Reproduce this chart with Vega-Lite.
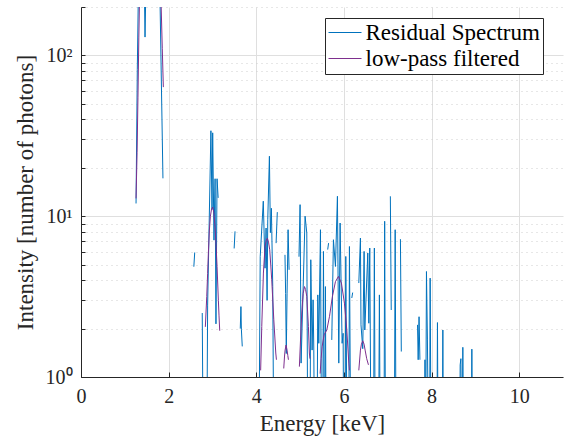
{
  "$schema": "https://vega.github.io/schema/vega-lite/v6.json",
  "width": 482,
  "height": 370,
  "autosize": {"type": "none"},
  "padding": {"left": 81, "top": 7, "right": 21, "bottom": 64},
  "background": "white",
  "config": {
    "view": {"stroke": null},
    "axis": {"labelFont": "Times New Roman", "titleFont": "Times New Roman"},
    "legend": {
      "orient": "none", "legendX": 244, "legendY": 11,
      "symbolType": "M-1,0H2", "symbolSize": 484, "symbolStrokeWidth": 1,
      "labelFont": "Times New Roman", "labelFontSize": 23, "labelColor": "#000000", "labelLimit": 0,
      "labelOffset": 14.5, "rowPadding": 2, "padding": 3,
      "strokeColor": "#262626", "fillColor": "#ffffff", "cornerRadius": 0
    }
  },
  "datasets": {
    "res": [
      {"g": "r1", "E": 1.256, "I": 12.0}, {"g": "r1", "E": 1.285, "I": 82}, {"g": "r1", "E": 1.32, "I": 400}, {"g": "r1", "E": 1.40, "I": 500}, {"g": "r1", "E": 1.44, "I": 350},
      {"g": "r1", "E": 1.461, "I": 130}, {"g": "r1", "E": 1.485, "I": 300}, {"g": "r1", "E": 1.507, "I": 500}, {"g": "r1", "E": 1.60, "I": 700}, {"g": "r1", "E": 1.70, "I": 800},
      {"g": "r1", "E": 1.78, "I": 400}, {"g": "r1", "E": 1.80, "I": 250}, {"g": "r1", "E": 1.87, "I": 17.2},
      {"g": "r2", "E": 2.575, "I": 4.85}, {"g": "r2", "E": 2.595, "I": 5.95},
      {"g": "r3", "E": 2.767, "I": 2.5}, {"g": "r3", "E": 2.79, "I": 0.3}, {"g": "r3", "E": 2.87, "I": 0.3}, {"g": "r3", "E": 2.89, "I": 2.8}, {"g": "r3", "E": 2.965, "I": 34},
      {"g": "r3", "E": 2.99, "I": 11}, {"g": "r3", "E": 3.005, "I": 33}, {"g": "r3", "E": 3.035, "I": 7.1}, {"g": "r3", "E": 3.06, "I": 17.1}, {"g": "r3", "E": 3.08, "I": 2.14},
      {"g": "r3", "E": 3.105, "I": 17.1}, {"g": "r3", "E": 3.13, "I": 13.0},
      {"g": "r4", "E": 3.495, "I": 6.3}, {"g": "r4", "E": 3.515, "I": 8.05},
      {"g": "r5", "E": 3.635, "I": 2.0}, {"g": "r5", "E": 3.65, "I": 2.74}, {"g": "r5", "E": 3.66, "I": 1.98}, {"g": "r5", "E": 3.68, "I": 1.55},
      {"g": "r6", "E": 4.06, "I": 0.3}, {"g": "r6", "E": 4.09, "I": 5.6}, {"g": "r6", "E": 4.16, "I": 12.4}, {"g": "r6", "E": 4.20, "I": 4.75}, {"g": "r6", "E": 4.224, "I": 8.44},
      {"g": "r6", "E": 4.247, "I": 3.0}, {"g": "r6", "E": 4.262, "I": 9.5}, {"g": "r6", "E": 4.30, "I": 23.6}, {"g": "r6", "E": 4.322, "I": 7.9}, {"g": "r6", "E": 4.345, "I": 11.2},
      {"g": "r6", "E": 4.376, "I": 3.65}, {"g": "r6", "E": 4.40, "I": 0.3},
      {"g": "r7", "E": 4.452, "I": 6.8}, {"g": "r7", "E": 4.48, "I": 10.6},
      {"g": "r8", "E": 4.655, "I": 5.75}, {"g": "r8", "E": 4.67, "I": 3.3}, {"g": "r8", "E": 4.685, "I": 1.4}, {"g": "r8", "E": 4.703, "I": 3.32}, {"g": "r8", "E": 4.726, "I": 8.24},
      {"g": "r8", "E": 4.749, "I": 4.64},
      {"g": "r9", "E": 4.975, "I": 5.6}, {"g": "r9", "E": 5.0, "I": 11.8}, {"g": "r9", "E": 5.023, "I": 1.22}, {"g": "r9", "E": 5.114, "I": 10}, {"g": "r9", "E": 5.153, "I": 7.86},
      {"g": "r9", "E": 5.175, "I": 0.3}, {"g": "r9", "E": 5.225, "I": 0.3}, {"g": "r9", "E": 5.244, "I": 5.36}, {"g": "r9", "E": 5.274, "I": 1.47}, {"g": "r9", "E": 5.297, "I": 3.02},
      {"g": "r9", "E": 5.313, "I": 1.47}, {"g": "r9", "E": 5.33, "I": 0.3}, {"g": "r9", "E": 5.385, "I": 0.3}, {"g": "r9", "E": 5.404, "I": 3.24}, {"g": "r9", "E": 5.427, "I": 1.62},
      {"g": "r9", "E": 5.465, "I": 8.24}, {"g": "r9", "E": 5.49, "I": 0.3}, {"g": "r9", "E": 5.515, "I": 0.3}, {"g": "r9", "E": 5.533, "I": 6.04}, {"g": "r9", "E": 5.556, "I": 0.3},
      {"g": "r9", "E": 5.565, "I": 0.3}, {"g": "r9", "E": 5.578, "I": 3.65}, {"g": "r9", "E": 5.594, "I": 0.3},
      {"g": "r10", "E": 5.63, "I": 6.2}, {"g": "r10", "E": 5.65, "I": 6.8},
      {"g": "r11", "E": 5.723, "I": 1.7}, {"g": "r11", "E": 5.761, "I": 7.14}, {"g": "r11", "E": 5.807, "I": 4.87}, {"g": "r11", "E": 5.852, "I": 13.3}, {"g": "r11", "E": 5.883, "I": 1.22},
      {"g": "r11", "E": 5.913, "I": 9.07}, {"g": "r11", "E": 5.959, "I": 1.62}, {"g": "r11", "E": 5.982, "I": 1.87}, {"g": "r11", "E": 5.997, "I": 0.3}, {"g": "r11", "E": 6.025, "I": 0.3},
      {"g": "r11", "E": 6.043, "I": 5.62}, {"g": "r11", "E": 6.073, "I": 0.3}, {"g": "r11", "E": 6.11, "I": 0.3}, {"g": "r11", "E": 6.126, "I": 6.48}, {"g": "r11", "E": 6.157, "I": 0.3},
      {"g": "r12", "E": 6.18, "I": 3.1}, {"g": "r12", "E": 6.20, "I": 3.35},
      {"g": "r13", "E": 6.34, "I": 3.84}, {"g": "r13", "E": 6.377, "I": 7.31}, {"g": "r13", "E": 6.39, "I": 2.11}, {"g": "r13", "E": 6.43, "I": 1.5}, {"g": "r13", "E": 6.461, "I": 6.04},
      {"g": "r13", "E": 6.477, "I": 1.96}, {"g": "r13", "E": 6.545, "I": 5.9}, {"g": "r13", "E": 6.568, "I": 2.16}, {"g": "r13", "E": 6.59, "I": 6.34}, {"g": "r13", "E": 6.62, "I": 0.3},
      {"g": "r13", "E": 6.675, "I": 0.3}, {"g": "r13", "E": 6.695, "I": 6.34}, {"g": "r13", "E": 6.715, "I": 0.3}, {"g": "r13", "E": 6.79, "I": 0.3}, {"g": "r13", "E": 6.81, "I": 3.24},
      {"g": "r13", "E": 6.83, "I": 0.3}, {"g": "r13", "E": 6.915, "I": 0.3}, {"g": "r13", "E": 6.93, "I": 9.3}, {"g": "r13", "E": 6.95, "I": 0.3},
      {"g": "r14", "E": 7.06, "I": 13.3}, {"g": "r14", "E": 7.08, "I": 2.61},
      {"g": "r15", "E": 7.15, "I": 0.3}, {"g": "r15", "E": 7.17, "I": 8.24}, {"g": "r15", "E": 7.19, "I": 0.3},
      {"g": "r16", "E": 7.29, "I": 7.2}, {"g": "r16", "E": 7.31, "I": 1.44},
      {"g": "r17", "E": 7.68, "I": 2.11}, {"g": "r17", "E": 7.695, "I": 1.28}, {"g": "r17", "E": 7.715, "I": 2.37}, {"g": "r17", "E": 7.735, "I": 1.28},
      {"g": "r18", "E": 7.84, "I": 0.3}, {"g": "r18", "E": 7.85, "I": 1.28}, {"g": "r18", "E": 7.865, "I": 0.3}, {"g": "r18", "E": 7.884, "I": 4.53}, {"g": "r18", "E": 7.906, "I": 1.7},
      {"g": "r18", "E": 7.93, "I": 0.3}, {"g": "r18", "E": 7.955, "I": 0.3}, {"g": "r18", "E": 7.968, "I": 4.12}, {"g": "r18", "E": 7.99, "I": 0.3}, {"g": "r18", "E": 8.12, "I": 0.3},
      {"g": "r18", "E": 8.135, "I": 2.18}, {"g": "r18", "E": 8.15, "I": 0.3}, {"g": "r18", "E": 8.245, "I": 0.3}, {"g": "r18", "E": 8.258, "I": 1.96}, {"g": "r18", "E": 8.27, "I": 0.3},
      {"g": "r18", "E": 8.64, "I": 0.3}, {"g": "r18", "E": 8.653, "I": 1.19}, {"g": "r18", "E": 8.67, "I": 1.3}, {"g": "r18", "E": 8.69, "I": 0.3}, {"g": "r18", "E": 8.70, "I": 0.3},
      {"g": "r18", "E": 8.714, "I": 1.53}, {"g": "r18", "E": 8.73, "I": 0.3}, {"g": "r18", "E": 8.905, "I": 0.3}, {"g": "r18", "E": 8.92, "I": 1.49}, {"g": "r18", "E": 8.935, "I": 0.3}
    ],
    "lp": [
      {"g": "p1", "E": 1.256, "I": 12.9}, {"g": "p1", "E": 1.28, "I": 25}, {"g": "p1", "E": 1.30, "I": 55}, {"g": "p1", "E": 1.32, "I": 130}, {"g": "p1", "E": 1.335, "I": 220},
      {"g": "p1", "E": 1.4, "I": 600}, {"g": "p1", "E": 1.55, "I": 1000}, {"g": "p1", "E": 1.7, "I": 900}, {"g": "p1", "E": 1.78, "I": 600}, {"g": "p1", "E": 1.83, "I": 200},
      {"g": "p1", "E": 1.855, "I": 110}, {"g": "p1", "E": 1.879, "I": 63.5},
      {"g": "p2", "E": 2.838, "I": 2.05}, {"g": "p2", "E": 2.87, "I": 3.17}, {"g": "p2", "E": 2.89, "I": 4.4}, {"g": "p2", "E": 2.907, "I": 5.9}, {"g": "p2", "E": 2.93, "I": 8.2},
      {"g": "p2", "E": 2.953, "I": 10}, {"g": "p2", "E": 2.98, "I": 11.1}, {"g": "p2", "E": 3.006, "I": 11.4}, {"g": "p2", "E": 3.03, "I": 10.6}, {"g": "p2", "E": 3.059, "I": 8.6},
      {"g": "p2", "E": 3.08, "I": 6.8}, {"g": "p2", "E": 3.105, "I": 4.87}, {"g": "p2", "E": 3.135, "I": 3.0}, {"g": "p2", "E": 3.15, "I": 2.4}, {"g": "p2", "E": 3.166, "I": 1.94},
      {"g": "p3", "E": 4.10, "I": 1.1}, {"g": "p3", "E": 4.125, "I": 2.06}, {"g": "p3", "E": 4.163, "I": 4.43}, {"g": "p3", "E": 4.20, "I": 6.48}, {"g": "p3", "E": 4.23, "I": 7.1},
      {"g": "p3", "E": 4.254, "I": 7.3}, {"g": "p3", "E": 4.28, "I": 6.9}, {"g": "p3", "E": 4.307, "I": 6.18}, {"g": "p3", "E": 4.353, "I": 4.02}, {"g": "p3", "E": 4.40, "I": 2.27},
      {"g": "p3", "E": 4.445, "I": 1.41}, {"g": "p3", "E": 4.46, "I": 1.28},
      {"g": "p4", "E": 4.627, "I": 1.13}, {"g": "p4", "E": 4.645, "I": 1.35}, {"g": "p4", "E": 4.658, "I": 1.47}, {"g": "p4", "E": 4.68, "I": 1.58}, {"g": "p4", "E": 4.703, "I": 1.47},
      {"g": "p4", "E": 4.72, "I": 1.36}, {"g": "p4", "E": 4.734, "I": 1.28},
      {"g": "p5", "E": 4.984, "I": 1.16}, {"g": "p5", "E": 5.01, "I": 1.7}, {"g": "p5", "E": 5.038, "I": 2.5}, {"g": "p5", "E": 5.07, "I": 3.3}, {"g": "p5", "E": 5.10, "I": 3.65},
      {"g": "p5", "E": 5.125, "I": 3.5}, {"g": "p5", "E": 5.153, "I": 3.17}, {"g": "p5", "E": 5.19, "I": 2.06}, {"g": "p5", "E": 5.212, "I": 1.41}, {"g": "p5", "E": 5.225, "I": 1.3},
      {"g": "p6", "E": 5.457, "I": 1.05}, {"g": "p6", "E": 5.48, "I": 1.3}, {"g": "p6", "E": 5.502, "I": 1.54}, {"g": "p6", "E": 5.548, "I": 1.83}, {"g": "p6", "E": 5.61, "I": 1.96},
      {"g": "p6", "E": 5.67, "I": 2.37}, {"g": "p6", "E": 5.738, "I": 3.17}, {"g": "p6", "E": 5.807, "I": 3.92}, {"g": "p6", "E": 5.875, "I": 4.22}, {"g": "p6", "E": 5.943, "I": 3.84},
      {"g": "p6", "E": 6.012, "I": 2.88}, {"g": "p6", "E": 6.066, "I": 1.96}, {"g": "p6", "E": 6.112, "I": 1.22}, {"g": "p6", "E": 6.126, "I": 1.1},
      {"g": "p7", "E": 6.34, "I": 1.1}, {"g": "p7", "E": 6.377, "I": 1.47}, {"g": "p7", "E": 6.40, "I": 1.6}, {"g": "p7", "E": 6.43, "I": 1.68}, {"g": "p7", "E": 6.46, "I": 1.6},
      {"g": "p7", "E": 6.484, "I": 1.47}, {"g": "p7", "E": 6.52, "I": 1.3}, {"g": "p7", "E": 6.56, "I": 1.19}
    ]
  },
  "encoding": {
    "x": {
      "field": "E", "type": "quantitative",
      "scale": {"domain": [0, 11], "nice": false, "zero": false},
      "axis": {
        "values": [0, 2, 4, 6, 8, 10], "title": "Energy [keV]",
        "grid": true, "gridColor": "#dfdfdf", "gridWidth": 1,
        "domainColor": "#262626", "domainWidth": 1,
        "tickColor": "#262626", "tickSize": -5, "tickWidth": 1,
        "labelFont": "Times New Roman", "labelFontSize": 20, "labelColor": "#262626",
        "labelPadding": 14, "labelFlush": false, "labelOverlap": false,
        "titleFont": "Times New Roman", "titleFontSize": 23, "titleFontWeight": "normal", "titleColor": "#262626",
        "titlePadding": 6
      }
    },
    "y": {
      "field": "I", "type": "quantitative",
      "scale": {"type": "log", "domain": [1, 200], "nice": false},
      "axis": {
        "values": [1, 2, 3, 4, 5, 6, 7, 8, 9, 10, 20, 30, 40, 50, 60, 70, 80, 90, 100, 200],
        "labelExpr": "datum.value == 1 ? '10⁰' : datum.value == 10 ? '10¹' : datum.value == 100 ? '10²' : ''",
        "title": "Intensity [number of photons]",
        "grid": true,
        "gridColor": {"condition": {"test": "datum.value == 1 || datum.value == 10 || datum.value == 100", "value": "#dfdfdf"}, "value": "#cfcfcf"},
        "gridDash": {"condition": {"test": "datum.value == 1 || datum.value == 10 || datum.value == 100", "value": []}, "value": [1, 4]},
        "gridWidth": 1,
        "domainColor": "#262626", "domainWidth": 1,
        "tickColor": "#262626", "tickSize": -4, "tickWidth": 1,
        "labelFont": "Times New Roman", "labelFontSize": 20, "labelColor": "#262626",
        "labelPadding": 13, "labelOverlap": false, "labelFlush": false,
        "titleFont": "Times New Roman", "titleFontSize": 23, "titleFontWeight": "normal", "titleColor": "#262626",
        "titlePadding": 8
      }
    }
  },
  "layer": [
    {
      "data": {"name": "res"},
      "mark": {"type": "line", "strokeWidth": 1, "clip": true},
      "encoding": {
        "detail": {"field": "g", "type": "nominal"},
        "color": {
          "datum": "Residual Spectrum", "type": "nominal",
          "scale": {"domain": ["Residual Spectrum", "low-pass filtered"], "range": ["#0072BD", "#7E2F8E"]},
          "legend": {"title": null}
        }
      }
    },
    {
      "data": {"name": "lp"},
      "mark": {"type": "line", "strokeWidth": 1, "clip": true},
      "encoding": {
        "detail": {"field": "g", "type": "nominal"},
        "color": {"datum": "low-pass filtered", "type": "nominal"}
      }
    }
  ]
}
